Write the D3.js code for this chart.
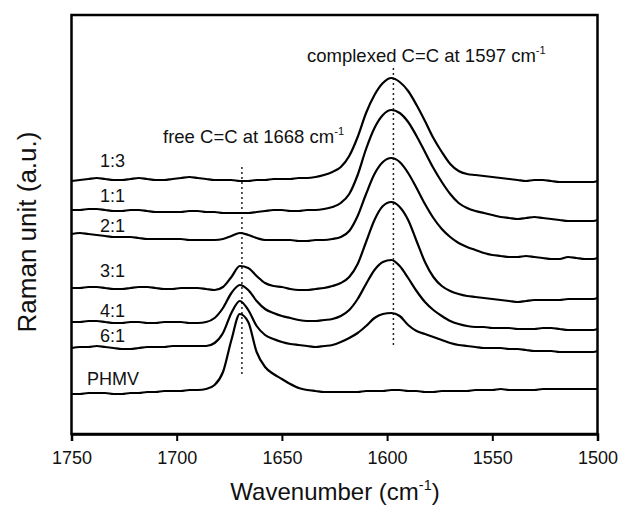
<!DOCTYPE html>
<html>
<head>
<meta charset="utf-8">
<script src="https://cdn.jsdelivr.net/npm/d3@7"></script>
<style>
  body { margin: 0; background: #fff; }
  text { font-family: "Liberation Sans", Arial, sans-serif; fill: #111; }
</style>
</head>
<body>
<svg width="620" height="513"></svg>
<script>
// wavenumber grid (cm-1), every 4 cm-1
var wavenumbers = [1750,1746,1742,1738,1734,1730,1726,1722,1718,1714,1710,1706,1702,1698,1694,1690,
  1686,1682,1678,1674,1670,1666,1662,1658,1654,1650,1646,1642,1638,1634,1630,1626,
  1622,1618,1614,1610,1606,1602,1598,1594,1590,1586,1582,1578,1574,1570,1566,1562,
  1558,1554,1550,1546,1542,1538,1534,1530,1526,1522,1518,1514,1510,1506,1502,1500];

// stacked spectra, raman intensity (a.u., offsets included)
var ratio13 = [253,254,255,256,255,254,254,255, 256,255,254,254,255,256,257,256,
  255,254,254,254,253,253,254,254, 255,255,255,256,256,257,259,262,
  267,278,297,321,339,351,356,352, 343,329,313,296,282,270,263,260,
  259,258,257,256,255,254,253,254, 254,253,252,252,252,252,252,253];
var ratio11 = [224,224,225,225,224,223,223,224, 224,223,222,222,222,222,223,223,
  222,222,221,221,221,221,222,223, 224,224,223,223,224,224,225,227,
  231,240,259,285,306,319,324,321, 312,298,282,266,252,240,231,226,
  223,221,219,217,216,215,216,217, 216,215,214,213,213,213,213,214];
var ratio21 = [200,201,200,199,198,197,197,197, 196,195,195,195,195,195,194,194,
  194,194,195,198,201,199,196,194, 194,194,194,193,193,194,194,195,
  197,203,218,240,260,272,276,272, 261,246,230,216,205,197,191,187,
  184,181,179,178,177,177,178,177, 176,175,175,177,176,175,175,176];
var ratio31 = [146,146,147,147,146,145,145,146, 147,147,146,145,145,146,146,146,
  145,144,147,157,168,166,158,151, 148,147,145,144,144,145,146,148,
  151,157,170,192,214,228,232,227, 214,193,172,157,148,143,140,138,
  137,136,135,134,133,132,133,134, 134,134,134,135,135,135,135,136];
var ratio41 = [112,112,113,113,112,111,111,112, 112,111,111,112,112,112,111,111,
  112,116,126,141,149,144,133,125, 121,118,116,114,113,113,114,115,
  118,124,135,150,164,172,174,168, 156,143,132,124,118,113,110,108,
  107,107,106,106,106,105,105,105, 106,106,105,104,104,104,104,105];
var ratio61 = [86,87,87,88,87,86,85,85, 86,87,87,87,88,88,88,88,
  88,91,101,121,133,124,108,99, 95,92,90,89,88,87,88,89,
  92,96,101,108,116,120,121,118, 109,103,100,97,94,91,89,88,
  87,86,86,86,85,85,84,83, 83,83,82,82,82,82,82,83];
var phmv = [40,40,41,41,41,40,40,41, 41,42,42,43,43,43,44,44,
  45,49,62,94,120,112,82,67, 60,55,50,46,44,43,42,42,
  42,42,42,43,43,43,44,44, 43,43,42,42,43,43,43,43,
  44,44,44,45,44,44,44,44, 45,45,45,45,45,45,45,45];

var seriesNames = ['1:3', '1:1', '2:1', '3:1', '4:1', '6:1', 'PHMV'];
var xTicks = [1750, 1700, 1650, 1600, 1550, 1500];

// dotted marker lines: wavenumber and intensity extent
var markers = [{wn: 1669, lo: 59, hi: 267}, {wn: 1597, lo: 87, hi: 366}];

var svg = d3.select('svg');

var x = d3.scaleLinear().domain([1750, 1500]).range([71.5, 597.5]);
var y = d3.scaleLinear().domain([0, 420]).range([434, 14]);

var series = [ratio13, ratio11, ratio21, ratio31, ratio41, ratio61, phmv].map(function(v, i) {
  return {name: seriesNames[i], values: v};
});

// label placement (layout only)
var labelX = [100, 100, 100, 100, 100, 100, 87];
var labelY = [167, 202, 232, 277, 317, 342, 385];

// frame
svg.append('rect')
  .attr('x', x(1750)).attr('y', 15)
  .attr('width', x(1500) - x(1750)).attr('height', 434 - 15)
  .attr('fill', 'none').attr('stroke', '#000').attr('stroke-width', 2.5);

// bottom axis
var axis = svg.append('g')
  .attr('transform', 'translate(0,434)')
  .call(d3.axisBottom(x).tickValues(xTicks).tickSize(7).tickPadding(10).tickFormat(d3.format('d')));
axis.select('.domain').attr('stroke', '#000').attr('stroke-width', 2.5);
axis.selectAll('.tick line').attr('stroke', '#000').attr('stroke-width', 2);
axis.selectAll('.tick text').attr('font-size', 18).attr('fill', '#111')
  .style('font-family', '"Liberation Sans", Arial, sans-serif');

// dotted markers
svg.selectAll('line.marker').data(markers).enter().append('line')
  .attr('class', 'marker')
  .attr('x1', function(d) { return x(d.wn); })
  .attr('x2', function(d) { return x(d.wn); })
  .attr('y1', function(d) { return y(d.hi); })
  .attr('y2', function(d) { return y(d.lo); })
  .attr('stroke', '#222').attr('stroke-width', 1.5).attr('stroke-dasharray', '2,3');

var line = d3.line()
  .x(function(d, i) { return x(wavenumbers[i]); })
  .y(function(d) { return y(d); })
  .curve(d3.curveMonotoneX);

svg.selectAll('path.spec').data(series).enter().append('path')
  .attr('class', 'spec')
  .attr('d', function(d) { return line(d.values); })
  .attr('fill', 'none')
  .attr('stroke', '#000')
  .attr('stroke-width', 2.2)
  .attr('stroke-linejoin', 'round');

svg.selectAll('text.lab').data(series).enter().append('text')
  .attr('class', 'lab')
  .attr('x', function(d, i) { return labelX[i]; })
  .attr('y', function(d, i) { return labelY[i]; })
  .attr('font-size', 18)
  .text(function(d) { return d.name; });

// annotations with superscript
function supText(tx, ty, size, main, sup, tail) {
  var t = svg.append('text').attr('x', tx).attr('y', ty).attr('font-size', size);
  t.append('tspan').text(main);
  t.append('tspan').attr('dy', -size * 0.42).attr('font-size', size * 0.6).text(sup);
  if (tail) t.append('tspan').attr('dy', size * 0.42).text(tail);
  return t;
}

supText(163, 143, 18.5, 'free C=C at 1668 cm', '-1');
supText(307, 62, 18.5, 'complexed C=C at 1597 cm', '-1');

var xt = supText(335, 500, 24, 'Wavenumber (cm', '-1', ')');
xt.attr('text-anchor', 'middle');

svg.append('text')
  .attr('transform', 'translate(27,232) rotate(-90)')
  .attr('text-anchor', 'middle')
  .attr('dominant-baseline', 'central')
  .attr('font-size', 26)
  .text('Raman unit (a.u.)');
</script>
</body>
</html>
